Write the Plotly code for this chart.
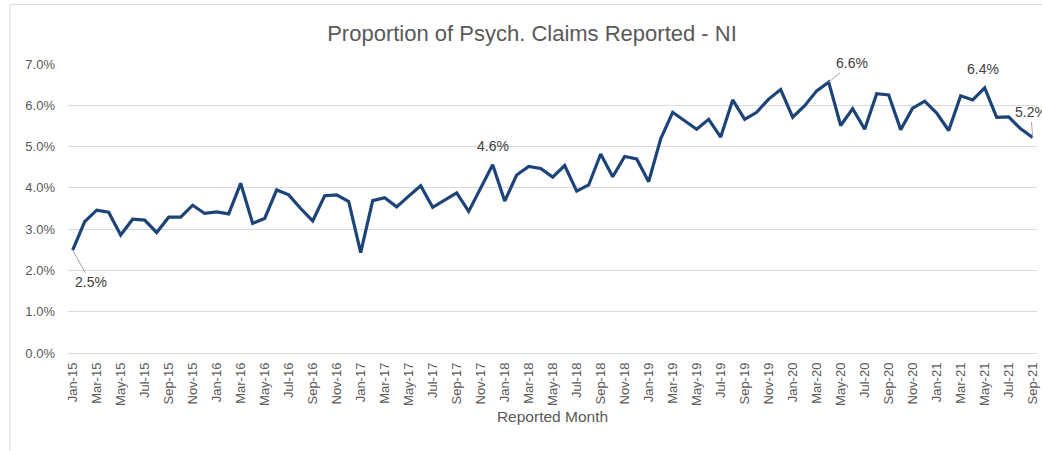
import plotly.graph_objects as go

months = ["Jan", "Feb", "Mar", "Apr", "May", "Jun", "Jul", "Aug", "Sep", "Oct", "Nov", "Dec"]
categories = [f"{m}-{y}" for y in range(15, 22) for m in months][:81]

values = [
    2.49, 3.18, 3.46, 3.41, 2.86, 3.24, 3.22, 2.92, 3.29, 3.29, 3.58, 3.38,
    3.42, 3.37, 4.11, 3.14, 3.26, 3.95, 3.83, 3.50, 3.20, 3.81, 3.83, 3.67,
    2.43, 3.69, 3.76, 3.54, 3.80, 4.05, 3.53, 3.71, 3.88, 3.43, 4.00, 4.56,
    3.68, 4.31, 4.52, 4.47, 4.26, 4.54, 3.92, 4.07, 4.82, 4.27, 4.76, 4.70,
    4.15, 5.19, 5.83, 5.63, 5.42, 5.66, 5.23, 6.13, 5.66, 5.83, 6.15, 6.38,
    5.71, 5.99, 6.35, 6.56, 5.51, 5.92, 5.42, 6.28, 6.25, 5.41, 5.93, 6.10,
    5.81, 5.39, 6.23, 6.13, 6.42, 5.71, 5.72, 5.43, 5.22,
]

y_ticks = [0, 1, 2, 3, 4, 5, 6, 7]
y_tick_labels = [f"{v:.1f}%" for v in y_ticks]

labels = [  # (index, text, ax, ay, arrow)
    (0, "2.5%", 18, 32, True),
    (35, "4.6%", 0, -19, False),
    (63, "6.6%", 23, -19, True),
    (76, "6.4%", -2, -19, False),
    (80, "5.2%", -2, -25, True),
]

x_idx = list(range(len(categories)))
tick_idx = x_idx[::2]
tick_text = [categories[i] for i in tick_idx]

FONT = "Liberation Sans, Arial, sans-serif"

fig = go.Figure()
fig.add_trace(go.Scatter(
    x=x_idx, y=values, mode="lines",
    line=dict(color="#1C4478", width=3.2),
    hoverinfo="skip", showlegend=False,
))

for i, txt, ax, ay, arrow in labels:
    fig.add_annotation(
        x=i, y=values[i], xref="x", yref="y", text=txt,
        showarrow=True, arrowhead=0, arrowwidth=1,
        arrowcolor="#A6A6A6" if arrow else "rgba(0,0,0,0)",
        ax=ax, ay=ay, font=dict(family=FONT, size=14, color="#404040"),
    )

fig.add_shape(type="rect", xref="paper", yref="paper",
              x0=-0.0599, x1=1.02, y0=-0.4, y1=1.2056,
              line=dict(color="#D9D9D9", width=1), fillcolor="rgba(0,0,0,0)",
              layer="below")

fig.update_layout(
    width=1042, height=451,
    margin=dict(l=68, r=5, t=64, b=98),
    paper_bgcolor="white", plot_bgcolor="white",
    font=dict(family=FONT, color="#595959"),
    title=dict(text="Proportion of Psych. Claims Reported - NI",
               x=532 / 1042, xanchor="center", y=1 - 33 / 451, yanchor="middle",
               font=dict(family=FONT, size=22, color="#595959")),
    xaxis=dict(
        range=[-0.39, 80.36], tickmode="array", tickvals=tick_idx, ticktext=tick_text,
        tickangle=-90, showgrid=False, zeroline=False, showline=False,
        ticks="", ticklabelstandoff=6, automargin=False,
        tickfont=dict(family=FONT, size=13, color="#595959"),
        title=dict(text="Reported Month", standoff=6,
                   font=dict(family=FONT, size=15.5, color="#595959")),
    ),
    yaxis=dict(
        range=[0, 7], tickmode="array", tickvals=y_ticks, ticktext=y_tick_labels,
        showgrid=True, gridcolor="#D9D9D9", gridwidth=1, zeroline=True,
        zerolinecolor="#D9D9D9", zerolinewidth=1, showline=False, ticks="",
        ticklabelstandoff=12, automargin=False,
        tickfont=dict(family=FONT, size=13, color="#595959"),
    ),
)

fig.write_html("out.html", config={"displayModeBar": False},
               post_script="document.body.style.margin='0';")
